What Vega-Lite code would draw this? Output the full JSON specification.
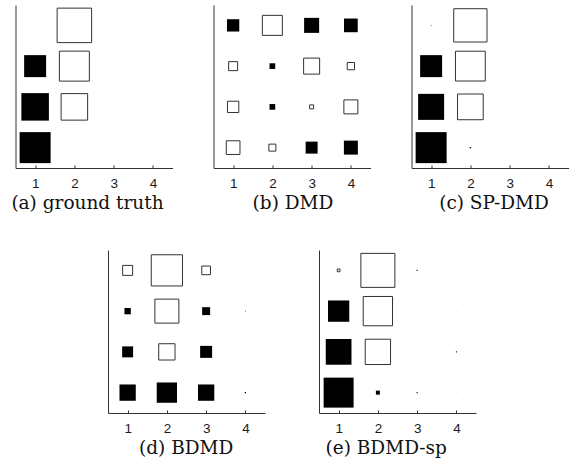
{
  "$schema": "https://vega.github.io/schema/vega-lite/v6.json",
  "padding": {"left": 10.5, "top": 5, "right": 5, "bottom": 5},
  "background": "white",
  "config": {
    "view": {"stroke": null},
    "axisY": {"minExtent": 0},
    "axis": {
      "grid": false,
      "domainColor": "#333333",
      "domainWidth": 1,
      "tickColor": "#333333",
      "labelFont": "Liberation Sans",
      "labelFontSize": 13.5,
      "labelColor": "#1a1a1a",
      "titleFont": "DejaVu Serif",
      "titleFontSize": 18.5,
      "titleFontWeight": "normal",
      "titleColor": "#111111"
    }
  },
  "data": {
    "values": [
      {"p": "a", "c": 1, "r": 1, "m": 0.742, "s": "+"},
      {"p": "a", "c": 1, "r": 2, "m": 0.584, "s": "+"},
      {"p": "a", "c": 1, "r": 3, "m": 0.373, "s": "+"},
      {"p": "a", "c": 2, "r": 4, "m": 0.918, "s": "-"},
      {"p": "a", "c": 2, "r": 3, "m": 0.694, "s": "-"},
      {"p": "a", "c": 2, "r": 2, "m": 0.542, "s": "-"},

      {"p": "b", "c": 1, "r": 4, "m": 0.117, "s": "+"},
      {"p": "b", "c": 2, "r": 4, "m": 0.309, "s": "-"},
      {"p": "b", "c": 3, "r": 4, "m": 0.174, "s": "+"},
      {"p": "b", "c": 4, "r": 4, "m": 0.145, "s": "+"},
      {"p": "b", "c": 1, "r": 3, "m": 0.0625, "s": "-"},
      {"p": "b", "c": 2, "r": 3, "m": 0.025, "s": "+"},
      {"p": "b", "c": 3, "r": 3, "m": 0.198, "s": "-"},
      {"p": "b", "c": 4, "r": 3, "m": 0.041, "s": "-"},
      {"p": "b", "c": 1, "r": 2, "m": 0.0985, "s": "-"},
      {"p": "b", "c": 2, "r": 2, "m": 0.025, "s": "+"},
      {"p": "b", "c": 3, "r": 2, "m": 0.0123, "s": "-"},
      {"p": "b", "c": 4, "r": 2, "m": 0.151, "s": "-"},
      {"p": "b", "c": 1, "r": 1, "m": 0.145, "s": "-"},
      {"p": "b", "c": 2, "r": 1, "m": 0.0378, "s": "-"},
      {"p": "b", "c": 3, "r": 1, "m": 0.111, "s": "+"},
      {"p": "b", "c": 4, "r": 1, "m": 0.151, "s": "+"},

      {"p": "c", "c": 1, "r": 4, "m": 0.0004, "s": "+"},
      {"p": "c", "c": 2, "r": 4, "m": 0.856, "s": "-"},
      {"p": "c", "c": 1, "r": 3, "m": 0.373, "s": "+"},
      {"p": "c", "c": 2, "r": 3, "m": 0.685, "s": "-"},
      {"p": "c", "c": 1, "r": 2, "m": 0.522, "s": "+"},
      {"p": "c", "c": 2, "r": 2, "m": 0.51, "s": "-"},
      {"p": "c", "c": 1, "r": 1, "m": 0.742, "s": "+"},
      {"p": "c", "c": 2, "r": 1, "m": 0.0013, "s": "+"},

      {"p": "d", "c": 1, "r": 4, "m": 0.077, "s": "-"},
      {"p": "d", "c": 2, "r": 4, "m": 0.751, "s": "-"},
      {"p": "d", "c": 3, "r": 4, "m": 0.058, "s": "-"},
      {"p": "d", "c": 4, "r": 4, "m": 0.0001, "s": "+"},
      {"p": "d", "c": 1, "r": 3, "m": 0.031, "s": "+"},
      {"p": "d", "c": 2, "r": 3, "m": 0.444, "s": "-"},
      {"p": "d", "c": 3, "r": 3, "m": 0.049, "s": "+"},
      {"p": "d", "c": 4, "r": 3, "m": 0.0004, "s": "+"},
      {"p": "d", "c": 1, "r": 2, "m": 0.093, "s": "+"},
      {"p": "d", "c": 2, "r": 2, "m": 0.205, "s": "-"},
      {"p": "d", "c": 3, "r": 2, "m": 0.111, "s": "+"},
      {"p": "d", "c": 4, "r": 2, "m": 0.0001, "s": "+"},
      {"p": "d", "c": 1, "r": 1, "m": 0.205, "s": "+"},
      {"p": "d", "c": 2, "r": 1, "m": 0.318, "s": "+"},
      {"p": "d", "c": 3, "r": 1, "m": 0.205, "s": "+"},
      {"p": "d", "c": 4, "r": 1, "m": 0.0013, "s": "+"},

      {"p": "e", "c": 1, "r": 4, "m": 0.0056, "s": "-"},
      {"p": "e", "c": 2, "r": 4, "m": 0.892, "s": "-"},
      {"p": "e", "c": 3, "r": 4, "m": 0.0008, "s": "+"},
      {"p": "e", "c": 1, "r": 3, "m": 0.35, "s": "+"},
      {"p": "e", "c": 2, "r": 3, "m": 0.662, "s": "-"},
      {"p": "e", "c": 3, "r": 3, "m": 0.0001, "s": "+"},
      {"p": "e", "c": 4, "r": 3, "m": 0.0001, "s": "+"},
      {"p": "e", "c": 1, "r": 2, "m": 0.51, "s": "+"},
      {"p": "e", "c": 2, "r": 2, "m": 0.494, "s": "-"},
      {"p": "e", "c": 4, "r": 2, "m": 0.0008, "s": "+"},
      {"p": "e", "c": 1, "r": 1, "m": 0.694, "s": "+"},
      {"p": "e", "c": 2, "r": 1, "m": 0.0123, "s": "+"},
      {"p": "e", "c": 3, "r": 1, "m": 0.0008, "s": "+"},
      {"p": "e", "c": 4, "r": 1, "m": 0.0001, "s": "+"}
    ]
  },
  "spacing": 38,
  "center": true,
  "vconcat": [
    {
      "spacing": 41,
      "hconcat": [
        {
          "width": 157, "height": 163,
          "transform": [{"filter": "datum.p == 'a'"}],
          "mark": {"type": "square", "opacity": 1, "stroke": "#333333"},
          "encoding": {
            "x": {"field": "c", "type": "quantitative", "scale": {"domain": [0.5, 4.5], "nice": false, "zero": false},
                  "axis": {"values": [1, 2, 3, 4], "format": "d", "tickSize": -3, "labelPadding": 11.5, "title": "(a) ground truth", "titleX": 71.5, "titleAlign": "center", "titleBaseline": "alphabetic", "titleY": 40}},
            "y": {"field": "r", "type": "quantitative", "scale": {"domain": [0.5, 4.5], "nice": false, "zero": false},
                  "axis": {"labels": false, "ticks": false, "title": null}},
            "size": {"field": "m", "type": "quantitative", "scale": {"domain": [0, 1], "range": [0, 1296], "zero": true}, "legend": null},
            "fill": {"field": "s", "type": "nominal", "scale": {"domain": ["+", "-"], "range": ["#000000", "#ffffff"]}, "legend": null},
            "strokeWidth": {"field": "s", "type": "nominal", "scale": {"domain": ["+", "-"], "range": [0, 1]}, "legend": null}
          }
        },
        {
          "width": 157, "height": 163,
          "transform": [{"filter": "datum.p == 'b'"}],
          "mark": {"type": "square", "opacity": 1, "stroke": "#333333"},
          "encoding": {
            "x": {"field": "c", "type": "quantitative", "scale": {"domain": [0.5, 4.5], "nice": false, "zero": false},
                  "axis": {"values": [1, 2, 3, 4], "format": "d", "tickSize": -3, "labelPadding": 11.5, "title": "(b) DMD", "titleX": 79, "titleAlign": "center", "titleBaseline": "alphabetic", "titleY": 40}},
            "y": {"field": "r", "type": "quantitative", "scale": {"domain": [0.5, 4.5], "nice": false, "zero": false},
                  "axis": {"labels": false, "ticks": false, "title": null}},
            "size": {"field": "m", "type": "quantitative", "scale": {"domain": [0, 1], "range": [0, 1296], "zero": true}, "legend": null},
            "fill": {"field": "s", "type": "nominal", "scale": {"domain": ["+", "-"], "range": ["#000000", "#ffffff"]}, "legend": null},
            "strokeWidth": {"field": "s", "type": "nominal", "scale": {"domain": ["+", "-"], "range": [0, 1]}, "legend": null}
          }
        },
        {
          "width": 157, "height": 163,
          "transform": [{"filter": "datum.p == 'c'"}],
          "mark": {"type": "square", "opacity": 1, "stroke": "#333333"},
          "encoding": {
            "x": {"field": "c", "type": "quantitative", "scale": {"domain": [0.5, 4.5], "nice": false, "zero": false},
                  "axis": {"values": [1, 2, 3, 4], "format": "d", "tickSize": -3, "labelPadding": 11.5, "title": "(c) SP-DMD", "titleX": 82, "titleAlign": "center", "titleBaseline": "alphabetic", "titleY": 40}},
            "y": {"field": "r", "type": "quantitative", "scale": {"domain": [0.5, 4.5], "nice": false, "zero": false},
                  "axis": {"labels": false, "ticks": false, "title": null}},
            "size": {"field": "m", "type": "quantitative", "scale": {"domain": [0, 1], "range": [0, 1296], "zero": true}, "legend": null},
            "fill": {"field": "s", "type": "nominal", "scale": {"domain": ["+", "-"], "range": ["#000000", "#ffffff"]}, "legend": null},
            "strokeWidth": {"field": "s", "type": "nominal", "scale": {"domain": ["+", "-"], "range": [0, 1]}, "legend": null}
          }
        }
      ]
    },
    {
      "spacing": 54,
      "hconcat": [
        {
          "width": 157, "height": 163,
          "transform": [{"filter": "datum.p == 'd'"}],
          "mark": {"type": "square", "opacity": 1, "stroke": "#333333"},
          "encoding": {
            "x": {"field": "c", "type": "quantitative", "scale": {"domain": [0.5, 4.5], "nice": false, "zero": false},
                  "axis": {"values": [1, 2, 3, 4], "format": "d", "tickSize": -3, "labelPadding": 11.5, "title": "(d) BDMD", "titleX": 77.7, "titleAlign": "center", "titleBaseline": "alphabetic", "titleY": 40}},
            "y": {"field": "r", "type": "quantitative", "scale": {"domain": [0.5, 4.5], "nice": false, "zero": false},
                  "axis": {"labels": false, "ticks": false, "title": null}},
            "size": {"field": "m", "type": "quantitative", "scale": {"domain": [0, 1], "range": [0, 1296], "zero": true}, "legend": null},
            "fill": {"field": "s", "type": "nominal", "scale": {"domain": ["+", "-"], "range": ["#000000", "#ffffff"]}, "legend": null},
            "strokeWidth": {"field": "s", "type": "nominal", "scale": {"domain": ["+", "-"], "range": [0, 1]}, "legend": null}
          }
        },
        {
          "width": 157, "height": 163,
          "transform": [{"filter": "datum.p == 'e'"}],
          "mark": {"type": "square", "opacity": 1, "stroke": "#333333"},
          "encoding": {
            "x": {"field": "c", "type": "quantitative", "scale": {"domain": [0.5, 4.5], "nice": false, "zero": false},
                  "axis": {"values": [1, 2, 3, 4], "format": "d", "tickSize": -3, "labelPadding": 11.5, "title": "(e) BDMD-sp", "titleX": 66.7, "titleAlign": "center", "titleBaseline": "alphabetic", "titleY": 40}},
            "y": {"field": "r", "type": "quantitative", "scale": {"domain": [0.5, 4.5], "nice": false, "zero": false},
                  "axis": {"labels": false, "ticks": false, "title": null}},
            "size": {"field": "m", "type": "quantitative", "scale": {"domain": [0, 1], "range": [0, 1296], "zero": true}, "legend": null},
            "fill": {"field": "s", "type": "nominal", "scale": {"domain": ["+", "-"], "range": ["#000000", "#ffffff"]}, "legend": null},
            "strokeWidth": {"field": "s", "type": "nominal", "scale": {"domain": ["+", "-"], "range": [0, 1]}, "legend": null}
          }
        }
      ]
    }
  ]
}
